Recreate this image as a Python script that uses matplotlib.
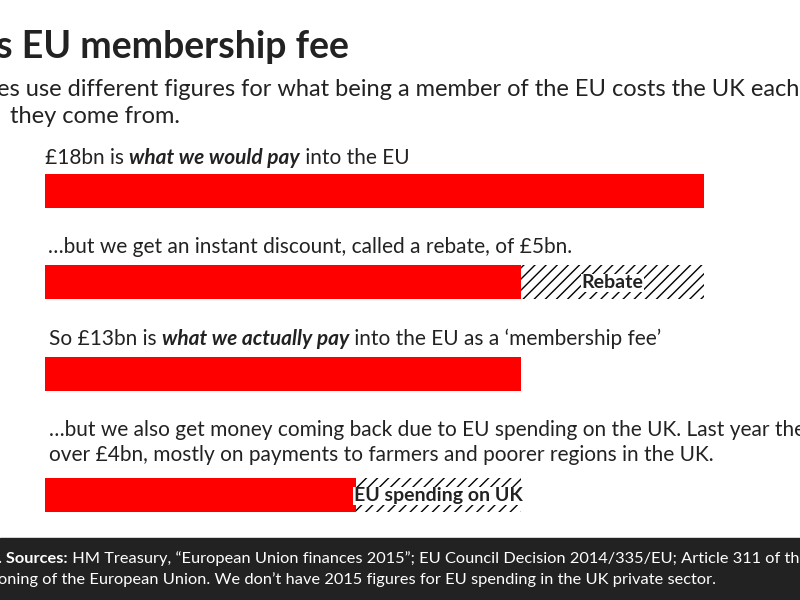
import matplotlib
matplotlib.use("Agg")
import matplotlib.pyplot as plt

plt.rcParams['font.family'] = ['Lato', 'DejaVu Sans']
plt.rcParams['hatch.linewidth'] = 1.0

# values in £bn
paid = [18, 13, 13, 8.5]
hatched = [0, 5, 0, 4.5]
hatch_labels = ["", "Rebate", "", "EU spending on UK"]
row_px = [191, 282, 374, 495]   # bar centres, pixels from top

RED = "#ff0000"
W, H = 800, 600
PX_PER_BN = 36.6
X0 = 45

fig = plt.figure(figsize=(8, 6), dpi=100)
ax = fig.add_axes([0, 0, 1, 1])
ax.set_xlim(-X0 / PX_PER_BN, (W - X0) / PX_PER_BN)
ax.set_ylim(H, 0)
ax.axis("off")

ax.barh(row_px, paid, height=34, color=RED, left=0)
ax.barh(row_px, hatched, left=paid, height=34, color="white",
        edgecolor="black", linewidth=0, hatch="///")
for y, p, h, lab in zip(row_px, paid, hatched, hatch_labels):
    if lab:
        ax.text(p + h / 2, y + 1, lab, ha="center", va="center",
                fontsize=14, fontweight="bold", color="#222222",
                bbox=dict(facecolor="white", edgecolor="none", pad=0.5))

# footer band
ax.axhspan(538, 600, color="#222222", zorder=0)

fig.canvas.draw()
rend = fig.canvas.get_renderer()


def seg_text(x, y, parts, size, color="#222222"):
    """parts: list of (text, weight, style); x, y in pixels (y from top)."""
    for s, w, st in parts:
        t = fig.text(x / W, 1 - y / H, s, fontsize=size, fontweight=w,
                     fontstyle=st, color=color, va="baseline", ha="left")
        x += t.get_window_extent(rend).width


n = ("normal", "normal")
seg_text(-4, 58, [("s EU membership fee", "bold", "normal")], 27)
seg_text(-3, 96, [("es use different figures for what being a member of the EU costs the UK each year.", *n)], 17)
seg_text(10, 123, [("they come from.", *n)], 17)

seg_text(45, 164, [("£18bn is ", *n), ("what we would pay", "bold", "italic"),
                   (" into the EU", *n)], 15)
seg_text(48, 253, [("…but we get an instant discount, called a rebate, of £5bn.", *n)], 15)
seg_text(49, 345, [("So £13bn is ", *n), ("what we actually pay", "bold", "italic"),
                   (" into the EU as a ‘membership fee’", *n)], 15)
seg_text(49, 436, [("…but we also get money coming back due to EU spending on the UK. Last year the", *n)], 15)
seg_text(49, 461, [("over £4bn, mostly on payments to farmers and poorer regions in the UK.", *n)], 15)

seg_text(-2, 563, [(". Sources:", "bold", "normal"),
                   (" HM Treasury, “European Union finances 2015”; EU Council Decision 2014/335/EU; Article 311 of the Treaty", *n)],
         11.8, color="white")
seg_text(-2, 584, [("oning of the European Union. We don’t have 2015 figures for EU spending in the UK private sector.", *n)],
         11.8, color="white")

fig.savefig("out.png", dpi=100)
